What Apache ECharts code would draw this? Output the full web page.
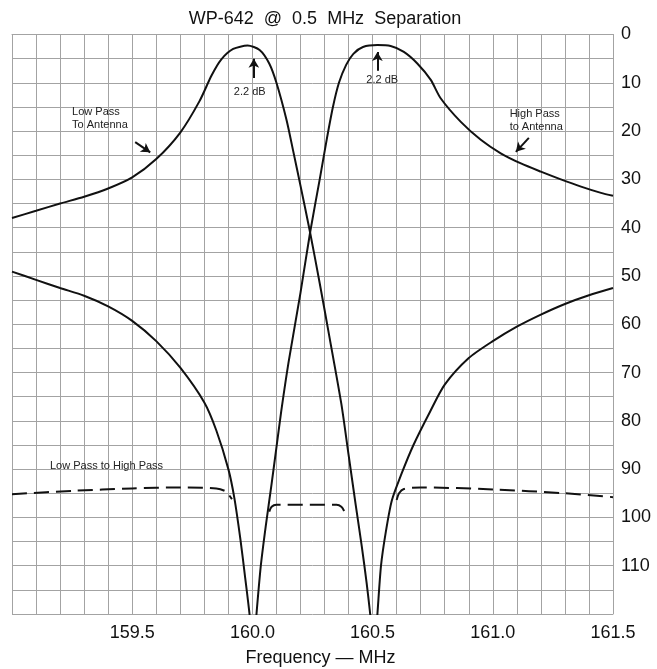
<!DOCTYPE html>
<html>
<head>
<meta charset="utf-8">
<script src="https://cdn.jsdelivr.net/npm/echarts@6/dist/echarts.min.js"></script>
<style>
html,body{margin:0;padding:0;background:#fff;}
#chart{width:657px;height:669px;}
</style>
</head>
<body>
<div id="chart"></div>
<script>
// ---- data (frequency in MHz, attenuation in dB) ----
var titleText = 'WP-642  @  0.5  MHz  Separation';
var xAxisName = 'Frequency \u2014 MHz';
var xTickLabels = ['159.5', '160.0', '160.5', '161.0', '161.5'];
var yTickLabels = ['0','10','20','30','40','50','60','70','80','90','100','110'];

// Low pass filter to antenna (passes 160.0, notch at 160.5)
var lowPassFreq = [159.0, 159.1, 159.2, 159.3, 159.4, 159.5, 159.6, 159.7, 159.78, 159.83, 159.87, 159.92, 159.98, 160.03, 160.07, 160.1, 160.142, 160.17, 160.2, 160.24, 160.28, 160.32, 160.37, 160.4, 160.43, 160.455, 160.475, 160.49, 160.495,
                   160.515, 160.52, 160.535, 160.555, 160.58, 160.62, 160.67, 160.74, 160.8, 160.9, 161.0, 161.1, 161.2, 161.3, 161.4, 161.5];
var lowPassDb   = [38.0, 36.5, 35.0, 33.6, 31.9, 29.6, 25.8, 20.3, 13.8, 8.5, 5.2, 3.0, 2.3, 3.2, 6.0, 10.0, 17.7, 24.2, 31.3, 41.0, 51.5, 62.5, 76.5, 87.0, 97.5, 106.0, 113.5, 120.0, 123.0,
                   123.0, 120.0, 110.0, 103.0, 96.5, 91.0, 85.0, 78.0, 72.5, 67.0, 63.5, 60.5, 58.0, 55.8, 54.0, 52.5];

// High pass filter to antenna (notch at 160.0, passes 160.5)
var highPassFreq = [159.0, 159.1, 159.2, 159.3, 159.4, 159.5, 159.6, 159.7, 159.8, 159.85, 159.9, 159.925, 159.95, 159.97, 159.988, 159.992,
                    160.013, 160.017, 160.035, 160.055, 160.08, 160.1, 160.12, 160.15, 160.2, 160.24, 160.28, 160.31, 160.335, 160.36, 160.39, 160.42, 160.46, 160.52, 160.575, 160.63, 160.686, 160.742, 160.783, 160.867, 160.95, 161.033, 161.117, 161.2, 161.283, 161.367, 161.45, 161.5];
var highPassDb   = [49.1, 50.8, 52.5, 54.1, 56.3, 59.3, 63.5, 69.0, 76.2, 82.0, 90.0, 96.0, 104.5, 112.5, 120.0, 123.0,
                    123.0, 120.0, 110.0, 102.0, 93.0, 85.5, 78.0, 68.0, 53.5, 41.0, 30.0, 21.5, 15.0, 10.0, 6.3, 4.0, 2.6, 2.2, 2.4, 3.6, 6.0, 9.4, 13.2, 18.1, 21.8, 24.6, 26.7, 28.4, 30.0, 31.5, 32.8, 33.4];

// Low pass to high pass isolation (dashed), null = gap
var isolationFreq = [159.0, 159.25, 159.5, 159.7, 159.85, 159.885, 159.9, 159.915, 159.95,
                     160.07, 160.08, 160.1, 160.35, 160.37, 160.383, 160.5,
                     160.6, 160.61, 160.63, 160.7, 161.0, 161.3, 161.5];
var isolationDb   = [95.2, 94.5, 94.0, 93.8, 94.0, 94.5, 95.2, 96.2, null,
                     98.8, 97.8, 97.4, 97.4, 97.8, 98.8, null,
                     96.4, 95.0, 94.1, 93.8, 94.2, 95.0, 95.8];

// annotations (text, frequency, dB)
var noteText = ['2.2 dB', '2.2 dB', 'Low Pass\nTo Antenna', 'High Pass\nto Antenna', 'Low Pass to High Pass'];
var noteFreq = [159.989, 160.54, 159.25, 161.07, 159.158];
var noteDb   = [11.8, 9.4, 17.4, 17.8, 89.3];
var noteAlign = ['center', 'center', 'left', 'left', 'left'];

// arrows (from -> to, arrow head at "to")
var arrowFromFreq = [160.006, 160.52, 159.5125, 161.15];
var arrowFromDb   = [9.0, 7.5, 22.3, 21.4];
var arrowToFreq   = [160.006, 160.52, 159.575, 161.096];
var arrowToDb     = [5.0, 3.6, 24.4, 24.3];

function pairs(xs, ys) {
  return xs.map(function (x, i) { return [x, ys[i] === null ? '-' : ys[i]]; });
}

var chart = echarts.init(document.getElementById('chart'), null, {renderer: 'canvas'});
var FONT = 'Liberation Sans';
var gridColor = '#a3a3a3';

var notePoints = noteText.map(function (t, i) {
  return {
    coord: [noteFreq[i], noteDb[i]],
    symbol: 'circle', symbolSize: 0,
    label: {show: true, formatter: t, position: 'inside', align: noteAlign[i], verticalAlign: 'middle',
            fontFamily: FONT, fontSize: 11, color: '#222', lineHeight: 13}
  };
});
var arrowLines = arrowFromFreq.map(function (f, i) {
  return [{coord: [f, arrowFromDb[i]]}, {coord: [arrowToFreq[i], arrowToDb[i]]}];
});

var option = {
  backgroundColor: '#ffffff',
  animation: false,
  title: {
    text: titleText, left: 320, top: 5, textAlign: 'center',
    textStyle: {fontFamily: FONT, fontSize: 18, fontWeight: 'normal', color: '#111'}
  },
  grid: {left: 12, right: 44, top: 34.5, bottom: 55, containLabel: false, outerBoundsMode: 'none'},
  xAxis: {
    type: 'value', min: 159.0, max: 161.5, interval: 0.1,
    name: xAxisName, nameLocation: 'middle', nameGap: 35,
    nameTextStyle: {fontFamily: FONT, fontSize: 18, color: '#111', padding: [0, 0, 0, 16]},
    axisLine: {show: true, lineStyle: {color: gridColor, width: 1}},
    axisTick: {show: false},
    splitLine: {show: true, lineStyle: {color: gridColor, width: 1}},
    axisLabel: {
      fontFamily: FONT, fontSize: 18, color: '#111', margin: 10,
      formatter: function (v) {
        var s = (Math.round(v * 10) / 10).toFixed(1);
        return xTickLabels.indexOf(s) >= 0 ? s : '';
      }
    }
  },
  yAxis: {
    type: 'value', min: 0, max: 120, interval: 5, inverse: true, position: 'right',
    axisLine: {show: true, lineStyle: {color: gridColor, width: 1}},
    axisTick: {show: false},
    splitLine: {show: true, lineStyle: {color: gridColor, width: 1}},
    axisLabel: {
      fontFamily: FONT, fontSize: 18, color: '#111', margin: 8, padding: [12, 0, 0, 0],
      formatter: function (v) {
        var s = String(Math.round(v));
        return yTickLabels.indexOf(s) >= 0 ? s : '';
      }
    }
  },
  series: [
    {
      name: 'Low Pass to Antenna', type: 'line', data: pairs(lowPassFreq, lowPassDb),
      showSymbol: false, smooth: 0.25, clip: true,
      lineStyle: {color: '#111', width: 2},
      markPoint: {silent: true, data: notePoints},
      markLine: {
        silent: true, symbol: ['none', 'arrow'], symbolSize: [8, 9],
        lineStyle: {color: '#111', width: 2, type: 'solid'},
        label: {show: false},
        data: arrowLines
      }
    },
    {
      name: 'High Pass to Antenna', type: 'line', data: pairs(highPassFreq, highPassDb),
      showSymbol: false, smooth: 0.25, clip: true,
      lineStyle: {color: '#111', width: 2}
    },
    {
      name: 'Low Pass to High Pass', type: 'line', data: pairs(isolationFreq, isolationDb),
      showSymbol: false, smooth: 0.3, connectNulls: false, clip: true,
      lineStyle: {color: '#111', width: 2, type: [15, 7]}
    }
  ]
};
chart.setOption(option);
</script>
</body>
</html>
